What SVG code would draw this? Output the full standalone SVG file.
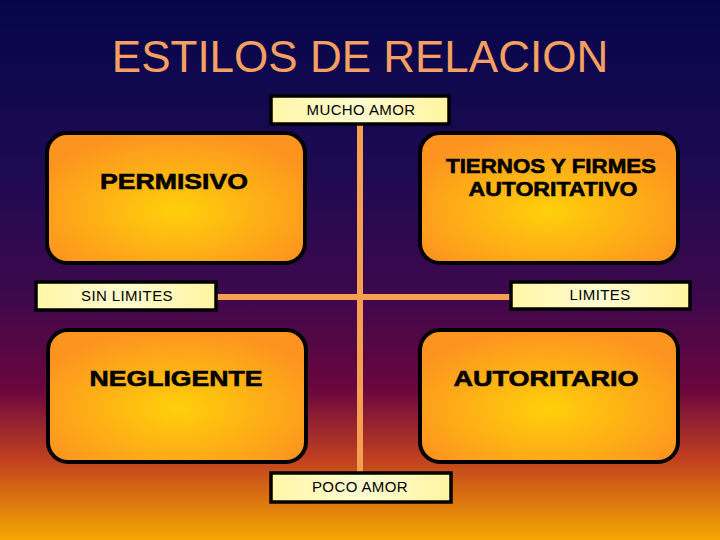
<svg xmlns="http://www.w3.org/2000/svg" width="720" height="540" viewBox="0 0 720 540">
<defs>
<linearGradient id="bg" x1="0" y1="0" x2="0" y2="1">
<stop offset="0" stop-color="#05064a"/>
<stop offset="0.3" stop-color="#1c0a52"/>
<stop offset="0.55" stop-color="#3e084c"/>
<stop offset="0.72" stop-color="#6a063e"/>
<stop offset="0.85" stop-color="#c04020"/>
<stop offset="1" stop-color="#f5a800"/>
</linearGradient>
<radialGradient id="box" cx="0.5" cy="0.6" r="0.6">
<stop offset="0" stop-color="#ffd00a"/>
<stop offset="1" stop-color="#fd9420"/>
</radialGradient>
<linearGradient id="lab" x1="0" y1="0" x2="1" y2="0">
<stop offset="0" stop-color="#fff6a8"/>
<stop offset="0.5" stop-color="#fffcd0"/>
<stop offset="1" stop-color="#fff4a0"/>
</linearGradient>
<style>
.box{fill:url(#box);stroke:#000;stroke-width:4}
.lab{fill:url(#lab);stroke:#000;stroke-width:3.5}
.bt{font-family:"Liberation Sans",Arial,sans-serif;font-weight:bold;font-size:22px;fill:#000;stroke:#000;stroke-width:0.6;text-anchor:middle}
.bs{font-size:20px}
.lt{font-family:"Liberation Sans",Arial,sans-serif;font-size:15px;letter-spacing:0.4px;fill:#000;text-anchor:middle}
.ln{stroke:#f4a050;stroke-width:6;fill:none}
</style>
</defs>
<rect width="720" height="540" fill="url(#bg)"/>
<text x="360" y="72" font-family="'Liberation Sans',Arial,sans-serif" font-size="44" fill="#f5a060" text-anchor="middle">ESTILOS DE RELACION</text>
<g id="connectors">
<line class="ln" x1="360" y1="124" x2="360" y2="472"/>
<line class="ln" x1="217" y1="297" x2="510" y2="297"/>
</g>
<g id="permisivo">
<rect class="box" x="47" y="133" width="258" height="130" rx="20"/>
<text class="bt" x="174" y="189" textLength="148" lengthAdjust="spacingAndGlyphs">PERMISIVO</text>
</g>
<g id="tiernos">
<rect class="box" x="420" y="133" width="258" height="130" rx="20"/>
<text class="bt bs" x="551" y="173" textLength="210" lengthAdjust="spacingAndGlyphs">TIERNOS Y FIRMES</text>
<text class="bt bs" x="553" y="196" textLength="169" lengthAdjust="spacingAndGlyphs">AUTORITATIVO</text>
</g>
<g id="negligente">
<rect class="box" x="48" y="330" width="258" height="132" rx="20"/>
<text class="bt" x="176" y="386" textLength="173" lengthAdjust="spacingAndGlyphs">NEGLIGENTE</text>
</g>
<g id="autoritario">
<rect class="box" x="420" y="330" width="258" height="132" rx="20"/>
<text class="bt" x="546" y="386" textLength="185" lengthAdjust="spacingAndGlyphs">AUTORITARIO</text>
</g>
<g id="mucho-amor">
<rect class="lab" x="271" y="96" width="178" height="28"/>
<text class="lt" x="361" y="115">MUCHO AMOR</text>
</g>
<g id="sin-limites">
<rect class="lab" x="36" y="282" width="180" height="28"/>
<text class="lt" x="127" y="301">SIN LIMITES</text>
</g>
<g id="limites">
<rect class="lab" x="511" y="282" width="179" height="27"/>
<text class="lt" x="600" y="300">LIMITES</text>
</g>
<g id="poco-amor">
<rect class="lab" x="271" y="473" width="180" height="29"/>
<text class="lt" x="360" y="492">POCO AMOR</text>
</g>
</svg>
